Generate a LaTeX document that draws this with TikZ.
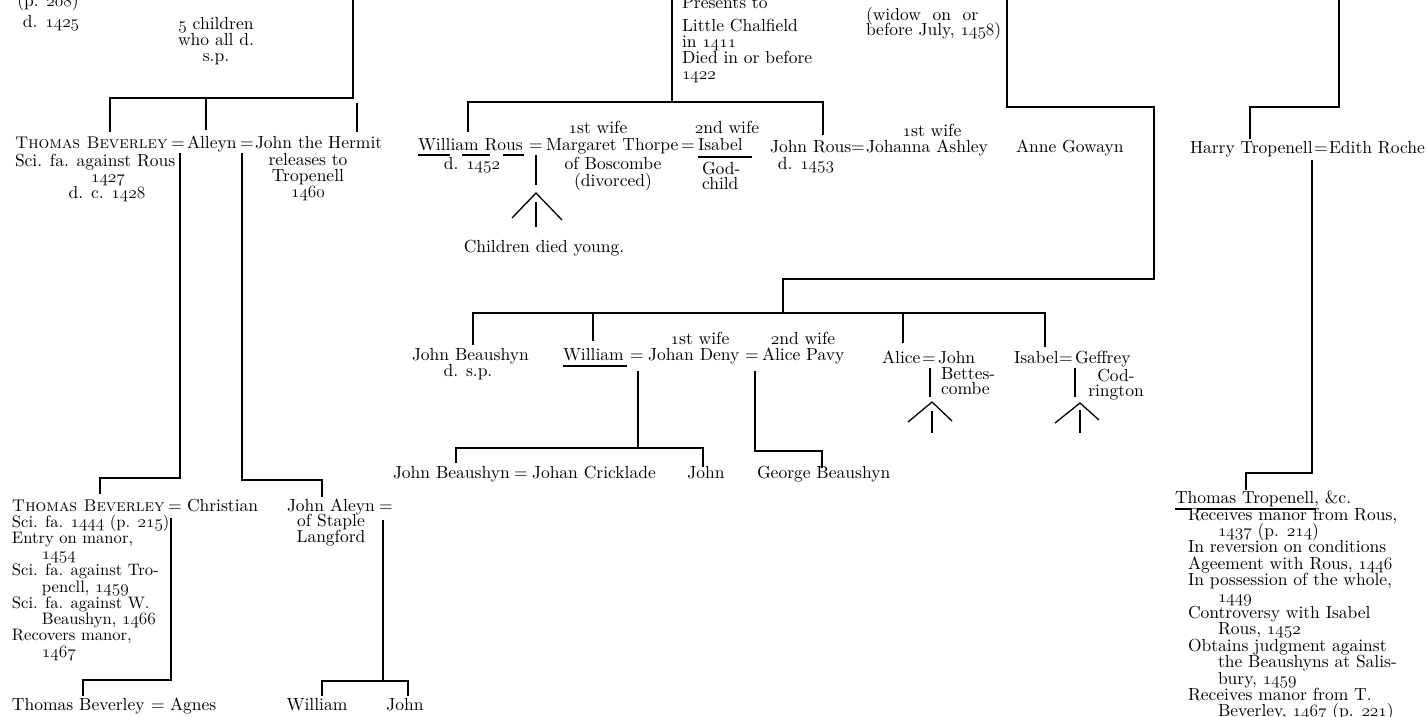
\documentclass[tikz,border=0pt]{standalone}
\usepackage{fontspec}
\setmainfont{lmroman10-regular.otf}[SmallCapsFont=lmromancaps10-regular.otf]
\newcommand{\fs}{\fontsize{17.5}{16.3}\selectfont}
\newcommand{\Lft}[2]{\vtop{\baselineskip=#1\relax\lineskiplimit=-100pt\lineskip=0pt\halign{##\hfil\cr#2\crcr}}}
\newcommand{\Ctr}[2]{\vtop{\baselineskip=#1\relax\lineskiplimit=-100pt\lineskip=0pt\halign{\hfil##\hfil\cr#2\crcr}}}
\newcommand{\os}[1]{{\usefont{OML}{cmm}{m}{it}#1}}
\newcommand{\ind}{\hspace*{30pt}}
\newcommand{\TB}{{\fontsize{16.9}{16}\selectfont\scshape Thomas Beverley}}
\begin{document}
\begin{tikzpicture}[x=1pt,y=-1pt,
  t/.style={inner sep=0pt, outer sep=0pt, font=\fs},
  ln/.style={line width=1.3pt},
  bar/.style={line width=2.4pt}]
\fill[white] (0,0) rectangle (1427,716);
\useasboundingbox (0,0) rectangle (1427,716);

% ---------------- top left ----------------
\node[t,anchor=base] (p208) at (48,6) {(p. \os{208})};
\node[t,anchor=base west] (d1425) at (23,27) {d. \os{1425}};
\node[t,anchor=base] (five) at (216,29) {\Ctr{16pt}{\os{5} children\cr who all d.\cr s.p.}};
\coordinate (k0) at (353,-2); \coordinate (k1) at (353,98);
\coordinate (k2) at (110,98); \coordinate (k3) at (110,132);
\coordinate (k4) at (206,99); \coordinate (k5) at (206,130);
\coordinate (k6) at (357,103); \coordinate (k7) at (357,132);
\draw[ln] (k0) -- (k1) -- (k2) -- (k3);
\draw[ln] (k4) -- (k5);
\draw[ln] (k6) -- (k7);

\node[t,anchor=base west] (tb1) at (15,148) {\TB};
\node[t,anchor=base] (eq1) at (178,148) {=};
\node[t,anchor=base west] (alleyn) at (187,148) {Alleyn};
\node[t,anchor=base] (eq2) at (247,148) {=};
\node[t,anchor=base west] (hermit) at (255,148) {John the Hermit};
\node[t,anchor=base west] (sci1) at (15,166) {Sci. fa. against Rous};
\node[t,anchor=base] (y1427) at (108,182) {\os{1427}};
\node[t,anchor=base] (dc1428) at (107,198) {d. c. \os{1428}};
\node[t,anchor=base] (hermitn) at (308,165) {\Ctr{16pt}{releases to\cr Tropenell\cr \os{1460}}};

\coordinate (m0) at (180,153); \coordinate (m1) at (180,478);
\coordinate (m2) at (100,478); \coordinate (m3) at (100,494);
\draw[ln] (m0) -- (m1) -- (m2) -- (m3);
\coordinate (n0) at (242,153); \coordinate (n1) at (242,480);
\coordinate (n2) at (322,480); \coordinate (n3) at (322,497);
\draw[ln] (n0) -- (n1) -- (n2) -- (n3);

% ---------------- left, second generation ----------------
\node[t,anchor=base west] (tb2) at (12,511) {\TB};
\node[t,anchor=base] (eq3) at (175,511) {=};
\node[t,anchor=base west] (christian) at (187,511) {Christian};
\node[t,anchor=base west] (jaleyn) at (287,511) {John Aleyn};
\node[t,anchor=base] (eq4) at (386,511) {=};
\node[t,anchor=base west,font=\fontsize{16.6}{16}\selectfont] (tb2n) at (12,527) {\Lft{16.25pt}{Sci. fa. \os{1444} (p. \os{215})\cr Entry on manor,\cr \ind\os{1454}\cr Sci. fa. against Tro-\cr \ind pencll, \os{1459}\cr Sci. fa. against W.\cr \ind Beaushyn, \os{1466}\cr Recovers manor,\cr \ind\os{1467}}};
\node[t,anchor=base] (staple) at (331,526) {\Ctr{16pt}{of Staple\cr Langford}};
\coordinate (p0) at (171,518); \coordinate (p1) at (171,680);
\coordinate (p2) at (83,680); \coordinate (p3) at (83,696);
\draw[ln] (p0) -- (p1) -- (p2) -- (p3);
\coordinate (q0) at (383,520); \coordinate (q1) at (383,681);
\coordinate (q2) at (322,696); \coordinate (q3) at (322,681);
\coordinate (q4) at (408,681); \coordinate (q5) at (408,696);
\draw[ln] (q0) -- (q1);
\draw[ln] (q2) -- (q3) -- (q4) -- (q5);

\node[t,anchor=base west] (tb3) at (12,710) {Thomas Beverley};
\node[t,anchor=base] (eq5) at (158,710) {=};
\node[t,anchor=base west] (agnes) at (170,710) {Agnes};
\node[t,anchor=base] (william1) at (317,710) {William};
\node[t,anchor=base] (john1) at (405,710) {John};

% ---------------- middle top ----------------
\node[t,anchor=base west] (presents) at (682,8) {Presents to};
\node[t,anchor=base west] (chalf) at (682,31) {\Lft{16pt}{Little Chalfield\cr in \os{1411}\cr Died in or before\cr \os{1422}}};
\coordinate (r0) at (672,-2); \coordinate (r1) at (672,102);
\draw[ln] (r0) -- (r1);
\coordinate (s0) at (468,132); \coordinate (s1) at (468,102);
\coordinate (s2) at (823,102); \coordinate (s3) at (823,135);
\draw[ln] (s0) -- (s1) -- (s2) -- (s3);

\node[t,anchor=base west] (wrous) at (418,150) {William Rous};
\node[t,anchor=base] (eq6) at (536,150) {=};
\node[t,anchor=base west] (margaret) at (546,150) {Margaret Thorpe};
\node[t,anchor=base] (eq7) at (688,150) {=};
\node[t,anchor=base west] (isabel1) at (698,150) {Isabel};
\node[t,anchor=base] (w1st) at (598,133) {\os{1}st wife};
\node[t,anchor=base] (w2nd) at (727,133) {\os{2}nd wife};
\node[t,anchor=base] (d1452) at (472,169) {d. \os{1452}};
\node[t,anchor=base] (bosc) at (613,169) {\Ctr{17pt}{of Boscombe\cr (divorced)}};
\node[t,anchor=base west] (god) at (702,174) {\Lft{15pt}{God-\cr child}};
\draw[bar] (418,155) -- (450,155);
\draw[bar] (462,155) -- (490,155);
\draw[bar] (503,155) -- (524,155);
\draw[bar] (698,157) -- (752,157);
\coordinate (f0) at (536,155); \coordinate (f1) at (536,185);
\coordinate (fa) at (536,193); \coordinate (fl) at (512,218); \coordinate (fr) at (562,220);
\coordinate (fc0) at (536,202); \coordinate (fc1) at (536,227);
\draw[ln] (f0) -- (f1);
\draw[ln] (fl) -- (fa) -- (fr);
\draw[ln] (fc0) -- (fc1);
\node[t,anchor=base] (cdy) at (544,252) {Children died young.};

\node[t,anchor=base west] (jrous) at (770,152) {John Rous};
\node[t,anchor=base] (eq8) at (858,152) {=};
\node[t,anchor=base west] (johanna) at (866,152) {Johanna Ashley};
\node[t,anchor=base] (j1st) at (932,136) {\os{1}st wife};
\node[t,anchor=base] (d1453) at (806,169) {d. \os{1453}};
\node[t,anchor=base west] (anne) at (1016,152) {Anne Gowayn};

\node[t,anchor=base west] (widow) at (866,20) {\Lft{15pt}{(widow\ \ on\ \ or\cr before July, \os{1458})}};
\coordinate (u0) at (1007,-2); \coordinate (u1) at (1007,107);
\coordinate (u2) at (1154,107); \coordinate (u3) at (1154,279);
\coordinate (u4) at (783,279); \coordinate (u5) at (783,313);
\draw[ln] (u0) -- (u1) -- (u2) -- (u3) -- (u4) -- (u5);

% ---------------- Beaushyn children ----------------
\coordinate (v0) at (473,345); \coordinate (v1) at (473,313);
\coordinate (v2) at (1045,313); \coordinate (v3) at (1045,347);
\draw[ln] (v0) -- (v1) -- (v2) -- (v3);
\coordinate (v4) at (593,313); \coordinate (v5) at (593,341);
\coordinate (v6) at (903,313); \coordinate (v7) at (903,343);
\draw[ln] (v4) -- (v5);
\draw[ln] (v6) -- (v7);

\node[t,anchor=base west] (jb1) at (412,360) {John Beaushyn};
\node[t,anchor=base] (dsp) at (468,376) {d. s.p.};
\node[t,anchor=base west] (william2) at (563,360) {William};
\node[t,anchor=base] (eq9) at (637,360) {=};
\node[t,anchor=base west] (deny) at (648,360) {Johan Deny};
\node[t,anchor=base] (eq10) at (752,360) {=};
\node[t,anchor=base west] (pavy) at (762,360) {Alice Pavy};
\node[t,anchor=base] (d1st) at (700,344) {\os{1}st wife};
\node[t,anchor=base] (d2nd) at (803,344) {\os{2}nd wife};
\draw[bar] (563,366) -- (627,366);

\coordinate (x0) at (638,371); \coordinate (x1) at (638,448);
\coordinate (x2) at (456,448); \coordinate (x3) at (456,463);
\coordinate (x4) at (703,448); \coordinate (x5) at (703,467);
\draw[ln] (x0) -- (x1);
\draw[ln] (x3) -- (x2) -- (x4) -- (x5);
\coordinate (y0) at (755,371); \coordinate (y1) at (755,451);
\coordinate (y2) at (822,451); \coordinate (y3) at (822,468);
\draw[ln] (y0) -- (y1) -- (y2) -- (y3);

\node[t,anchor=base west] (jb2) at (393,478) {John Beaushyn};
\node[t,anchor=base] (eq11) at (521,478) {=};
\node[t,anchor=base west] (crick) at (532,478) {Johan Cricklade};
\node[t,anchor=base] (john2) at (706,478) {John};
\node[t,anchor=base west] (george) at (757,478) {George Beaushyn};

% Alice
\node[t,anchor=base west] (alice) at (882,363) {Alice};
\node[t,anchor=base] (eq12) at (929,363) {=};
\node[t,anchor=base west] (jbet) at (938,363) {John};
\node[t,anchor=base west] (bet) at (941,379) {\Lft{15pt}{Bettes-\cr combe}};
\coordinate (g0) at (930,368); \coordinate (g1) at (930,397);
\coordinate (ga) at (932,402); \coordinate (gl) at (908,422); \coordinate (gr) at (952,421);
\coordinate (gc0) at (932,411); \coordinate (gc1) at (932,433);
\draw[ln] (g0) -- (g1);
\draw[ln] (gl) -- (ga) -- (gr);
\draw[ln] (gc0) -- (gc1);

% Isabel
\node[t,anchor=base west] (isabel2) at (1014,363) {Isabel};
\node[t,anchor=base] (eq13) at (1066,363) {=};
\node[t,anchor=base west] (geff) at (1075,363) {Geffrey};
\node[t,anchor=base] (cod) at (1116,381) {\Ctr{15pt}{Cod-\cr rington}};
\coordinate (h0) at (1075,368); \coordinate (h1) at (1075,397);
\coordinate (ha) at (1080,403); \coordinate (hl) at (1055,423); \coordinate (hr) at (1099,420);
\coordinate (hc0) at (1080,410); \coordinate (hc1) at (1080,433);
\draw[ln] (h0) -- (h1);
\draw[ln] (hl) -- (ha) -- (hr);
\draw[ln] (hc0) -- (hc1);

% ---------------- right ----------------
\coordinate (w0) at (1339,-2); \coordinate (w1) at (1339,107);
\coordinate (w2) at (1250,107); \coordinate (w3) at (1250,139);
\draw[ln] (w0) -- (w1) -- (w2) -- (w3);
\node[t,anchor=base west] (harry) at (1190,153) {Harry Tropenell};
\node[t,anchor=base] (eq14) at (1321,153) {=};
\node[t,anchor=base west] (edith) at (1329,153) {Edith Roche};
\coordinate (z0) at (1312,160); \coordinate (z1) at (1312,473);
\coordinate (z2) at (1246,473); \coordinate (z3) at (1246,490);
\draw[ln] (z0) -- (z1) -- (z2) -- (z3);

\node[t,anchor=base west] (ttrop) at (1175,503) {Thomas Tropenell, \&c.};
\draw[bar] (1175,509) -- (1192,509);
\draw[bar] (1197,509) -- (1316,509);
\node[t,anchor=base west] (tropn) at (1188,520) {\Lft{16.4pt}{Receives manor from Rous,\cr \ind\os{1437} (p. \os{214})\cr In reversion on conditions\cr Ageement with Rous, \os{1446}\cr In possession of the whole,\cr \ind\os{1449}\cr Controversy with Isabel\cr \ind Rous, \os{1452}\cr Obtains judgment against\cr \ind the Beaushyns at Salis-\cr \ind bury, \os{1459}\cr Receives manor from T.\cr \ind Beverley, \os{1467} (p. \os{221})}};
\end{tikzpicture}
\end{document}
